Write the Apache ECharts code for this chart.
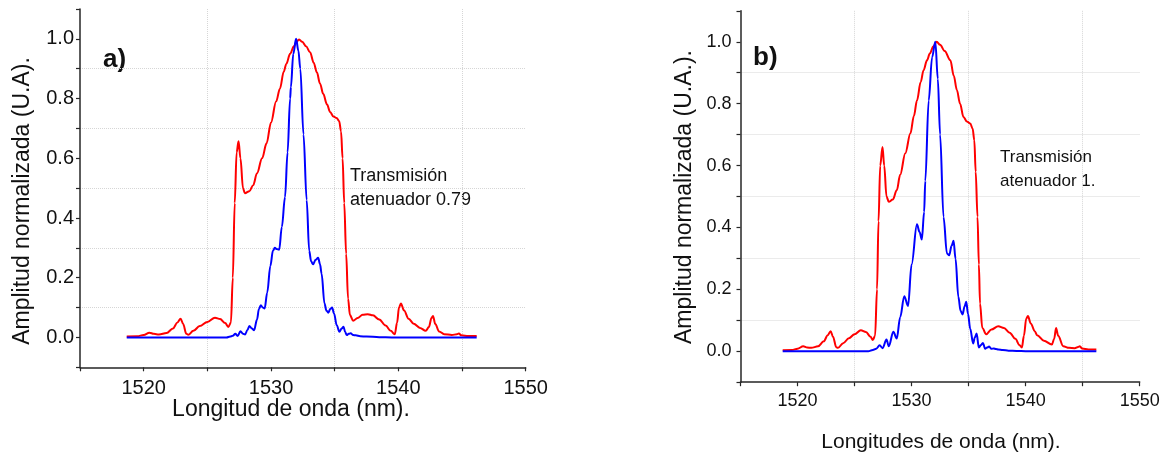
<!DOCTYPE html>
<html>
<head>
<meta charset="utf-8">
<script src="https://cdn.jsdelivr.net/npm/echarts@6.0.0/dist/echarts.min.js"></script>
<style>
html,body{margin:0;padding:0;background:#fff;}
#chart{width:1170px;height:456px;}
</style>
</head>
<body>
<div id="chart"></div>
<script>
// ---------- DATA ----------
// Panel a) red (broad) spectrum
const waveA_red = [1518.67,1519.5,1520.0,1520.45,1520.8,1521.2,1521.8,1522.3,1522.65,1522.9,1523.1,1523.35,1523.5,1523.9,1524.4,1525.0,1525.6,1526.0,1526.4,1526.65,1526.85,1527.0,1527.15,1527.3,1527.45,1527.6,1527.8,1527.95,1528.3,1528.6,1528.9,1529.3,1529.65,1530.0,1530.4,1530.7,1531.0,1531.2,1531.5,1531.8,1532.0,1532.2,1532.45,1532.75,1533.07,1533.35,1533.6,1533.85,1534.1,1534.4,1534.64,1534.9,1535.15,1535.35,1535.5,1535.62,1535.75,1535.9,1536.05,1536.2,1536.45,1536.8,1537.2,1537.6,1538.0,1538.5,1539.0,1539.4,1539.72,1539.9,1540.05,1540.2,1540.45,1540.8,1541.2,1541.7,1542.15,1542.4,1542.6,1542.72,1542.9,1543.2,1543.6,1544.2,1544.6,1544.75,1544.95,1545.5,1546.15];
const ampA_red  = [0.003,0.004,0.008,0.016,0.012,0.010,0.015,0.030,0.050,0.063,0.045,0.012,0.009,0.022,0.038,0.052,0.066,0.062,0.048,0.035,0.050,0.200,0.450,0.620,0.657,0.600,0.500,0.483,0.490,0.510,0.550,0.600,0.650,0.720,0.790,0.833,0.890,0.916,0.950,0.975,0.990,0.998,0.990,0.975,0.955,0.920,0.888,0.850,0.816,0.780,0.755,0.740,0.735,0.725,0.690,0.600,0.450,0.280,0.130,0.075,0.056,0.065,0.076,0.078,0.074,0.060,0.040,0.022,0.011,0.050,0.100,0.114,0.090,0.063,0.046,0.032,0.022,0.035,0.065,0.072,0.045,0.020,0.011,0.008,0.011,0.013,0.007,0.005,0.005];
// Panel a) blue (narrow) spectrum
const waveA_blue = [1518.67,1526.5,1526.8,1527.0,1527.2,1527.38,1527.6,1527.8,1527.96,1528.15,1528.3,1528.5,1528.67,1528.9,1529.05,1529.2,1529.35,1529.5,1529.7,1529.95,1530.15,1530.3,1530.45,1530.64,1530.85,1531.1,1531.3,1531.5,1531.56,1531.75,1531.97,1532.15,1532.3,1532.55,1532.8,1533.0,1533.15,1533.3,1533.5,1533.7,1533.85,1533.97,1534.2,1534.35,1534.5,1534.65,1534.8,1534.95,1535.16,1535.37,1535.55,1535.7,1535.82,1535.95,1536.1,1536.25,1536.45,1536.65,1537.0,1537.5,1538.5,1539.5,1546.15];
const ampA_blue  = [0,0,0.003,0.006,0.012,0.005,0.021,0.012,0.010,0.025,0.038,0.030,0.024,0.060,0.095,0.108,0.100,0.097,0.150,0.240,0.290,0.300,0.296,0.294,0.370,0.470,0.620,0.800,0.838,0.950,1.000,0.960,0.900,0.680,0.460,0.290,0.255,0.245,0.260,0.267,0.245,0.214,0.114,0.090,0.083,0.095,0.100,0.080,0.041,0.019,0.030,0.036,0.018,0.008,0.012,0.014,0.008,0.007,0.004,0.003,0.001,0,0];
// Panel b) red (broad) spectrum
const waveB_red = [1518.7,1519.5,1520.0,1520.5,1520.85,1521.2,1521.8,1522.3,1522.65,1522.9,1523.1,1523.4,1523.55,1524.0,1524.5,1525.0,1525.55,1526.0,1526.4,1526.6,1526.8,1526.97,1527.1,1527.25,1527.45,1527.6,1527.8,1528.0,1528.35,1528.7,1529.0,1529.45,1529.9,1530.2,1530.47,1530.8,1531.05,1531.35,1531.6,1531.9,1532.2,1532.5,1532.9,1533.4,1533.7,1533.97,1534.25,1534.55,1534.85,1535.14,1535.35,1535.5,1535.62,1535.78,1535.9,1536.0,1536.2,1536.54,1537.0,1537.6,1538.1,1538.6,1539.1,1539.45,1539.67,1539.85,1540.05,1540.2,1540.45,1540.8,1541.0,1541.6,1542.3,1542.5,1542.67,1542.85,1543.3,1543.8,1544.3,1544.6,1544.75,1544.95,1545.5,1546.2];
const ampB_red  = [0.003,0.004,0.008,0.016,0.012,0.011,0.016,0.032,0.052,0.065,0.048,0.013,0.011,0.026,0.042,0.055,0.068,0.062,0.047,0.036,0.050,0.200,0.420,0.600,0.660,0.600,0.500,0.483,0.490,0.520,0.570,0.640,0.704,0.760,0.810,0.870,0.908,0.940,0.962,0.985,1.000,0.990,0.970,0.940,0.890,0.844,0.800,0.757,0.742,0.736,0.720,0.682,0.580,0.434,0.280,0.154,0.075,0.055,0.070,0.081,0.075,0.060,0.040,0.020,0.012,0.050,0.105,0.114,0.090,0.065,0.052,0.034,0.022,0.040,0.075,0.050,0.016,0.011,0.010,0.014,0.016,0.009,0.006,0.006];
// Panel b) blue (narrow) spectrum
const waveB_blue = [1518.7,1526.2,1526.6,1526.9,1527.2,1527.46,1527.8,1528.0,1528.4,1528.7,1529.0,1529.36,1529.69,1530.0,1530.47,1530.7,1530.9,1531.1,1531.2,1531.5,1531.8,1532.08,1532.3,1532.5,1532.8,1533.1,1533.3,1533.5,1533.68,1533.85,1534.1,1534.3,1534.47,1534.65,1534.79,1534.95,1535.14,1535.4,1535.55,1535.7,1535.9,1536.08,1536.25,1536.45,1536.62,1536.8,1537.0,1537.2,1537.4,1537.6,1538.0,1538.5,1539.2,1540.0,1546.2];
const ampB_blue  = [0,0,0.004,0.008,0.019,0.010,0.038,0.016,0.063,0.041,0.110,0.178,0.146,0.280,0.410,0.385,0.361,0.450,0.550,0.810,0.950,1.000,0.880,0.700,0.434,0.316,0.310,0.340,0.357,0.300,0.176,0.130,0.119,0.145,0.160,0.120,0.073,0.025,0.045,0.057,0.012,0.020,0.027,0.008,0.012,0.015,0.008,0.009,0.007,0.006,0.004,0.002,0.001,0,0];

const xTicks = [1520, 1530, 1540, 1550];
const yTicks = [0.0, 0.2, 0.4, 0.6, 0.8, 1.0];

const titlesA = {x: 'Longitud de onda (nm).', y: 'Amplitud normalizada (U.A).', tag: 'a)', note: ['Transmisión', 'atenuador 0.79']};
const titlesB = {x: 'Longitudes de onda (nm).', y: 'Amplitud normalizada (U.A.).', tag: 'b)', note: ['Transmisión', 'atenuador 1.']};

// ---------- BUILD ----------
const FONT = '"Liberation Sans", Arial, sans-serif';
const AXC = '#262626';
const GRIDC = '#d6d6d6';
const zip = (xs, ys) => xs.map((x, i) => [x, ys[i]]);

function mainX(gi, fs, margin) {
  return {
    type: 'value', gridIndex: gi, min: 1515, max: 1550, interval: 5, position: 'bottom',
    axisLine: {show: true, onZero: false, lineStyle: {color: AXC, width: 1.5}},
    axisTick: {show: true, inside: false, length: 4, lineStyle: {color: AXC, width: 1.2}},
    axisLabel: {color: '#111', fontFamily: FONT, fontSize: fs, margin: margin,
      formatter: v => xTicks.indexOf(Math.round(v)) >= 0 ? String(Math.round(v)) : ''},
    splitLine: {show: false}
  };
}
function gridX(gi) {
  return {
    type: 'value', gridIndex: gi, min: 1515, max: 1550, interval: 10, position: 'top',
    axisLine: {show: false}, axisTick: {show: false}, axisLabel: {show: false},
    splitLine: {show: true, showMinLine: false, showMaxLine: false, lineStyle: {color: GRIDC, type: 'dotted', width: 1}}
  };
}
function mainY(gi, fs, margin) {
  return {
    type: 'value', gridIndex: gi, min: -0.1, max: 1.1, interval: 0.1, position: 'left',
    axisLine: {show: true, onZero: false, lineStyle: {color: AXC, width: 1.5}},
    axisTick: {show: true, inside: false, length: 4, lineStyle: {color: AXC, width: 1.2}},
    axisLabel: {color: '#111', fontFamily: FONT, fontSize: fs, margin: margin,
      formatter: v => {
        const k = Math.round(v * 10);
        return yTicks.some(t => Math.round(t * 10) === k) ? (k / 10).toFixed(1) : '';
      }},
    splitLine: {show: false}
  };
}
function gridY(gi) {
  return {
    type: 'value', gridIndex: gi, min: -0.1, max: 1.1, interval: 0.2, position: 'right',
    axisLine: {show: false}, axisTick: {show: false}, axisLabel: {show: false},
    splitLine: {show: true, showMinLine: false, showMaxLine: false, lineStyle: {color: GRIDC, type: 'dotted', width: 1}}
  };
}
function line(data, color, xi, yi, z) {
  return {
    type: 'line', data: data, xAxisIndex: xi, yAxisIndex: yi, showSymbol: false, symbol: 'none',
    smooth: 0.35, smoothMonotone: 'x', z: z,
    lineStyle: {color: color, width: 2}, itemStyle: {color: color}, animation: false
  };
}
function text(x, y, str, fs, opts) {
  return Object.assign({
    type: 'text', x: x, y: y, silent: true,
    style: Object.assign({text: str, fill: '#111', font: fs + 'px ' + FONT, textAlign: 'left', textVerticalAlign: 'middle'}, opts || {})
  });
}

const option = {
  animation: false,
  backgroundColor: '#fff',
  grid: [
    {left: 80, top: 9, right: 1170 - 525.7, bottom: 456 - 367.3, containLabel: false},
    {left: 740.5, top: 10.8, right: 1170 - 1139.7, bottom: 456 - 382.2, containLabel: false}
  ],
  xAxis: [mainX(0, 20, 11), gridX(0), mainX(1, 18, 10), gridX(1)],
  yAxis: [mainY(0, 20, 6), gridY(0), mainY(1, 18, 9), gridY(1)],
  series: [
    line(zip(waveA_red, ampA_red), '#ff0000', 0, 0, 3),
    line(zip(waveA_blue, ampA_blue), '#0000ff', 0, 0, 4),
    line(zip(waveB_red, ampB_red), '#ff0000', 2, 2, 3),
    line(zip(waveB_blue, ampB_blue), '#0000ff', 2, 2, 4)
  ],
  graphic: [
    text(291, 410, titlesA.x, 23, {textAlign: 'center'}),
    Object.assign(text(23, 201, titlesA.y, 23, {textAlign: 'center'}), {rotation: Math.PI / 2}),
    text(103, 60, titlesA.tag, 26, {font: 'bold 26px ' + FONT}),
    text(350, 176, titlesA.note[0], 18),
    text(350, 200, titlesA.note[1], 18),
    text(941, 442, titlesB.x, 21, {textAlign: 'center'}),
    Object.assign(text(685, 197, titlesB.y, 23, {textAlign: 'center'}), {rotation: Math.PI / 2}),
    text(753, 58, titlesB.tag, 26, {font: 'bold 26px ' + FONT}),
    text(1000, 157, titlesB.note[0], 17),
    text(1000, 181, titlesB.note[1], 17)
  ]
};

const chart = echarts.init(document.getElementById('chart'), null, {renderer: 'canvas'});
chart.setOption(option);
</script>
</body>
</html>
